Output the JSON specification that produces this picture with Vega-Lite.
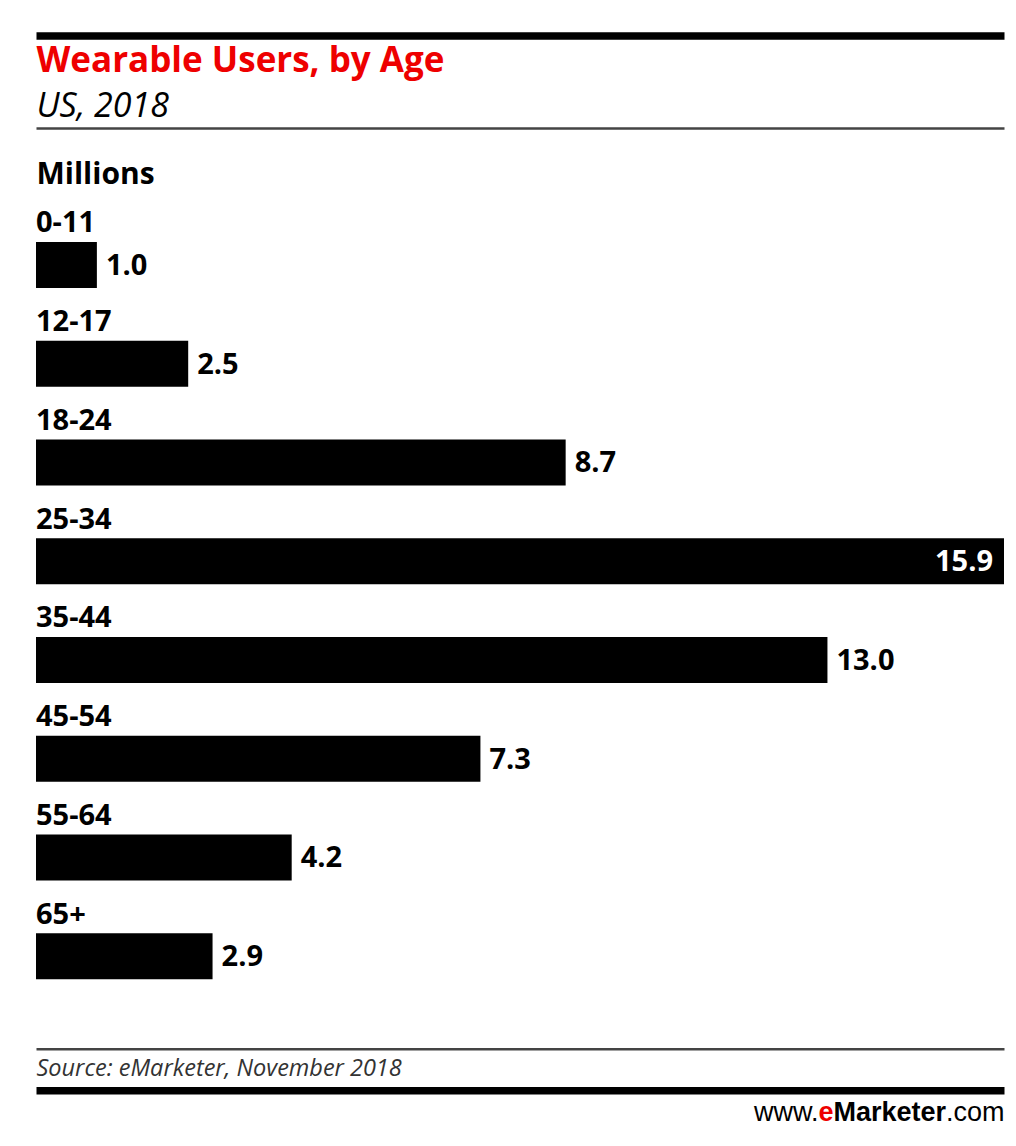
{
  "$schema": "https://vega.github.io/schema/vega-lite/v6.json",
  "width": 968,
  "height": 790,
  "autosize": {"type": "none"},
  "padding": {"left": 36, "top": 215.6, "right": 12, "bottom": 140.4},
  "background": "white",
  "config": {"view": {"stroke": null}, "font": "Open Sans"},
  "data": {
    "values": [
      {"age": "0-11", "value": 1.0},
      {"age": "12-17", "value": 2.5},
      {"age": "18-24", "value": 8.7},
      {"age": "25-34", "value": 15.9},
      {"age": "35-44", "value": 13.0},
      {"age": "45-54", "value": 7.3},
      {"age": "55-64", "value": 4.2},
      {"age": "65+", "value": 2.9}
    ]
  },
  "layer": [
    {
      "mark": {"type": "bar", "height": 46, "color": "#000000"},
      "encoding": {
        "x": {
          "field": "value", "type": "quantitative",
          "scale": {"domain": [0, 15.9], "nice": false, "zero": true},
          "axis": {
            "orient": "bottom", "offset": 43.1, "domain": true, "domainColor": "#444444", "domainWidth": 2.5,
            "labels": false, "ticks": false, "grid": false,
            "title": "Source: eMarketer, November 2018", "titleX": 0, "titleY": 26.3,
            "titleAlign": "left", "titleBaseline": "alphabetic", "titleFont": "Open Sans",
            "titleFontSize": 23.5, "titleFontStyle": "italic", "titleFontWeight": "normal", "titleColor": "#333333"
          }
        },
        "y": {
          "field": "age", "type": "nominal", "sort": null,
          "scale": {"type": "band", "paddingInner": 0, "paddingOuter": 0},
          "axis": {
            "orient": "left", "domain": false, "labels": false, "ticks": false, "grid": false,
            "title": "Millions", "titleAngle": 0, "titleX": 0, "titleY": -32.3,
            "titleAlign": "left", "titleBaseline": "alphabetic", "titleFont": "Open Sans",
            "titleFontSize": 30, "titleFontWeight": "bold", "titleColor": "#000000"
          }
        }
      }
    },
    {
      "mark": {"type": "text", "align": "left", "baseline": "alphabetic", "dy": -32.5, "fontSize": 29, "fontWeight": "bold", "color": "#000000", "font": "Open Sans"},
      "encoding": {
        "x": {
          "datum": 0, "type": "quantitative",
          "scale": {"domain": [0, 15.9], "nice": false, "zero": true},
          "axis": {
            "orient": "top", "offset": 87.6, "domain": true, "domainColor": "#444444", "domainWidth": 2.5,
            "labels": false, "ticks": false, "grid": false,
            "title": "US, 2018", "titleX": 0, "titleY": -12,
            "titleAlign": "left", "titleBaseline": "alphabetic", "titleFont": "Open Sans",
            "titleFontSize": 34, "titleFontStyle": "italic", "titleFontWeight": "normal", "titleColor": "#000000"
          }
        },
        "y": {
          "field": "age", "type": "nominal", "sort": null,
          "scale": {"type": "band", "paddingInner": 0, "paddingOuter": 0},
          "axis": {
            "orient": "left", "domain": false, "labels": false, "ticks": false, "grid": false,
            "title": "www.", "titleAngle": 0, "titleX": 782, "titleY": 904.4,
            "titleAlign": "right", "titleBaseline": "alphabetic", "titleFont": "Liberation Sans",
            "titleFontSize": 27, "titleFontWeight": "normal", "titleColor": "#000000"
          }
        },
        "text": {"field": "age", "type": "nominal"}
      }
    },
    {
      "transform": [{"filter": "datum.value < 15"}],
      "mark": {"type": "text", "align": "left", "baseline": "alphabetic", "dx": 9, "dy": 10, "fontSize": 29, "fontWeight": "bold", "color": "#000000", "font": "Open Sans"},
      "encoding": {
        "x": {
          "field": "value", "type": "quantitative",
          "scale": {"domain": [0, 15.9], "nice": false, "zero": true},
          "axis": {
            "orient": "top", "offset": 180.1, "domain": true, "domainColor": "#000000", "domainWidth": 7.5,
            "labels": false, "ticks": false, "grid": false,
            "title": "Wearable Users, by Age", "titleX": 0, "titleY": 36,
            "titleAlign": "left", "titleBaseline": "alphabetic", "titleFont": "Open Sans",
            "titleFontSize": 35, "titleFontWeight": "bold", "titleColor": "#ee0000"
          }
        },
        "y": {
          "field": "age", "type": "nominal", "sort": null,
          "scale": {"type": "band", "paddingInner": 0, "paddingOuter": 0},
          "axis": {
            "orient": "left", "domain": false, "labels": false, "ticks": false, "grid": false,
            "title": "e", "titleAngle": 0, "titleX": 797, "titleY": 904.4,
            "titleAlign": "right", "titleBaseline": "alphabetic", "titleFont": "Liberation Sans",
            "titleFontSize": 27, "titleFontWeight": "bold", "titleColor": "#ee0000"
          }
        },
        "text": {"field": "value", "type": "quantitative", "format": ".1f"}
      }
    },
    {
      "transform": [{"filter": "datum.value >= 15"}],
      "mark": {"type": "text", "align": "right", "baseline": "alphabetic", "dx": -11, "dy": 10, "fontSize": 29, "fontWeight": "bold", "color": "#ffffff", "font": "Open Sans"},
      "encoding": {
        "x": {
          "field": "value", "type": "quantitative",
          "scale": {"domain": [0, 15.9], "nice": false, "zero": true},
          "axis": {
            "orient": "bottom", "offset": 84.7, "domain": true, "domainColor": "#000000", "domainWidth": 7.5,
            "labels": false, "ticks": false, "grid": false,
            "title": ".com", "titleX": 968, "titleY": 29.7,
            "titleAlign": "right", "titleBaseline": "alphabetic", "titleFont": "Liberation Sans",
            "titleFontSize": 27, "titleFontWeight": "normal", "titleColor": "#000000"
          }
        },
        "y": {
          "field": "age", "type": "nominal", "sort": null,
          "scale": {"type": "band", "paddingInner": 0, "paddingOuter": 0},
          "axis": {
            "orient": "left", "domain": false, "labels": false, "ticks": false, "grid": false,
            "title": "Marketer", "titleAngle": 0, "titleX": 909.5, "titleY": 904.4,
            "titleAlign": "right", "titleBaseline": "alphabetic", "titleFont": "Liberation Sans",
            "titleFontSize": 27, "titleFontWeight": "bold", "titleColor": "#000000"
          }
        },
        "text": {"field": "value", "type": "quantitative", "format": ".1f"}
      }
    }
  ],
  "resolve": {"axis": {"x": "independent", "y": "independent"}}
}
